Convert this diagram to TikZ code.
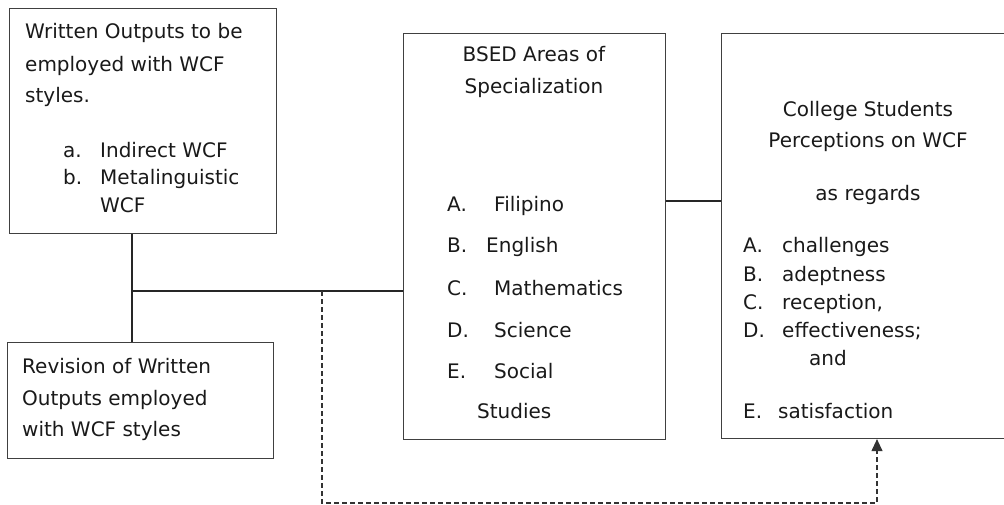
\documentclass[tikz,border=0pt]{standalone}
\usepackage{fontspec}
\setmainfont{DejaVu Sans}
\usetikzlibrary{arrows.meta}

\tikzset{
    box/.style={draw=black!75, line width=1.1pt, anchor=north west, inner sep=0pt},
    txt/.style={anchor=base west, inner sep=0pt},
    ctxt/.style={anchor=base, inner sep=0pt},
    link/.style={draw=black!85, line width=1.1pt},
    back/.style={draw=black!80, line width=1.1pt, dash pattern=on 5pt off 3pt}
}

\begin{document}
\begin{tikzpicture}[x=1pt, y=-1pt, font=\fontsize{20}{24}\selectfont, text=black!90]
    \useasboundingbox (0,0) rectangle (1004,505);

    % boxes
    \node[box, minimum width=267pt, minimum height=225pt] (outputs) at (9,8) {};
    \node[box, minimum width=266pt, minimum height=116pt] (revision) at (7,342) {};
    \node[box, minimum width=262pt, minimum height=406pt] (bsed) at (403,33) {};
    \node[box, minimum width=294pt, minimum height=405pt] (percep) at (721,33) {};

    % written outputs
    \node[txt] (out1) at (25,39) {Written Outputs to be};
    \node[txt] (out2) at (25,72) {employed with WCF};
    \node[txt] (out3) at (25,103) {styles.};
    \node[txt] (outa) at (63,158) {a.};
    \node[txt] (outb) at (63,185) {b.};
    \node[txt] (outai) at (100,158) {Indirect WCF};
    \node[txt] (outbi) at (100,185) {Metalinguistic};
    \node[txt] (outbii) at (100,213) {WCF};

    % revision
    \node[txt] (rev1) at (22,373) {Revision of Written};
    \node[txt] (rev2) at (22,405) {Outputs employed};
    \node[txt] (rev3) at (22,436) {with WCF styles};

    % areas of specialization
    \node[ctxt] (bsed1) at (534,62) {BSED Areas of};
    \node[ctxt] (bsed2) at (534,94) {Specialization};
    \foreach \lab/\area/\x/\y [count=\i] in {A./Filipino/494/212, B./English/486/253,
        C./Mathematics/494/295, D./Science/494/337, E./Social/494/378} {
        \node[txt] (bsedlab\i) at (447,\y) {\lab};
        \node[txt] (bsedarea\i) at (\x,\y) {\area};
    }
    \node[txt] (bsedarea6) at (477,418) {Studies};

    % perceptions
    \node[ctxt] (per1) at (868,117) {College Students};
    \node[ctxt] (per2) at (868,148) {Perceptions on WCF};
    \node[ctxt] (per3) at (868,201) {as regards};
    \foreach \lab/\asp/\y [count=\i] in {A./challenges/253, B./adeptness/281,
        C./{reception,}/309, D./effectiveness;/337} {
        \node[txt] (perlab\i) at (743,\y) {\lab};
        \node[txt] (perasp\i) at (782,\y) {\asp};
    }
    \node[txt] (perand) at (809,365) {and};
    \node[txt] (perlab5) at (743,418) {E.};
    \node[txt] (perasp5) at (778,418) {satisfaction};

    % connectors
    \coordinate (j1) at (132,291);
    \coordinate (j2) at (693,201);
    \coordinate (d1) at (322,291);
    \coordinate (d2) at (877,503);
    \draw[link] (j1 |- outputs.south) -- (j1 |- revision.north);
    \draw[link] (j1) -- (j1 -| bsed.west);
    \draw[link] (j2 -| bsed.east) -- (j2 -| percep.west);
    \draw[back, -{Triangle[width=11pt, length=12pt]}] (d1) |- (d2) -- (d2 |- percep.south);
\end{tikzpicture}
\end{document}
